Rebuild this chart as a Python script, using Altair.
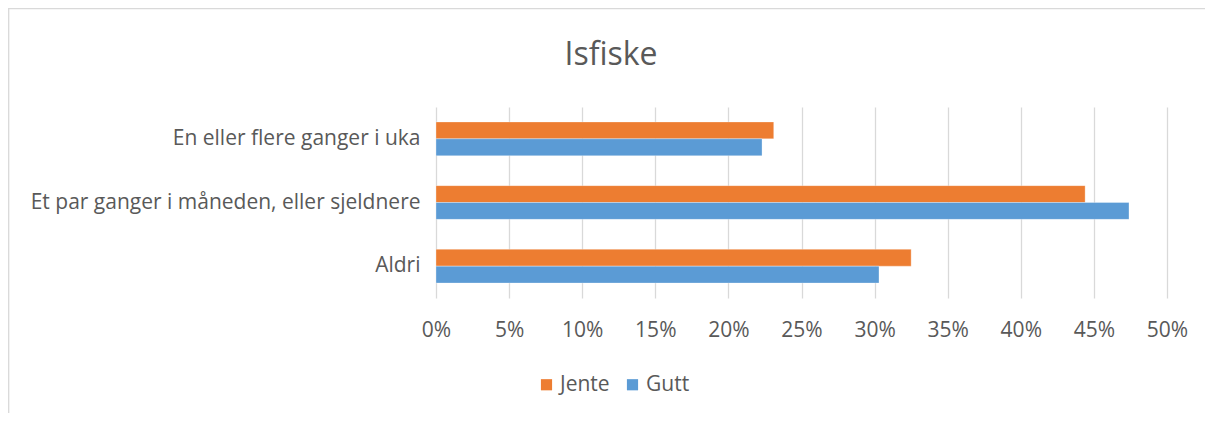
import altair as alt
import pandas as pd

title_text = ["Isfiske"]
categories = ["En eller flere ganger i uka", "Et par ganger i måneden, eller sjeldnere", "Aldri"]
series = ["Jente", "Gutt"]
jente = [23.1, 44.4, 32.5]
gutt = [22.3, 47.4, 30.3]
colors = ["#ED7D31", "#5B9BD5"]
x_ticks = [0, 5, 10, 15, 20, 25, 30, 35, 40, 45, 50]

rows = []
for c, j, g in zip(categories, jente, gutt):
    rows.append({"kategori": c, "kjonn": "Jente", "verdi": j / 100})
    rows.append({"kategori": c, "kjonn": "Gutt", "verdi": g / 100})
df = pd.DataFrame(rows)

FONT = "Open Sans"
TXT = "#595959"
FS = 21

bars = alt.Chart(df).mark_bar(stroke="white", strokeWidth=0.6, strokeOpacity=0.5).encode(
    y=alt.Y("kategori:N", sort=categories, title=None,
            scale=alt.Scale(paddingInner=0.47, paddingOuter=0.235),
            axis=alt.Axis(ticks=False, domain=False, labelPadding=16, labelFontSize=FS,
                          labelColor=TXT, labelFont=FONT, labelLimit=500)),
    yOffset=alt.YOffset("kjonn:N", sort=series),
    x=alt.X("verdi:Q", title=None,
            scale=alt.Scale(domain=[0, 0.5], nice=False),
            axis=alt.Axis(format=".0%", values=[v / 100 for v in x_ticks], ticks=False, domain=False,
                          grid=True, gridColor="#D9D9D9", gridWidth=1.3, labelFlush=False,
                          labelPadding=21, labelFontSize=FS, labelColor=TXT, labelFont=FONT)),
    color=alt.Color("kjonn:N", sort=series, scale=alt.Scale(domain=series, range=colors),
                    legend=alt.Legend(title=None, orient="none", direction="horizontal",
                                      legendX=100, legendY=267, symbolType="square",
                                      symbolSize=125, symbolStrokeWidth=0, labelFontSize=FS,
                                      labelColor=TXT, labelFont=FONT, columnPadding=12,
                                      labelOffset=3)),
)

title = alt.Chart(pd.DataFrame({"t": title_text})).mark_text(
    font=FONT, fontSize=32, color=TXT, baseline="alphabetic", align="center"
).encode(text="t:N", x=alt.value(175), y=alt.value(-42))

border_df = pd.DataFrame({"k": [0]})
top_line = alt.Chart(border_df).mark_rule(color="#D9D9D9", strokeWidth=1.3).encode(
    x=alt.value(-428), x2=alt.value(777), y=alt.value(-98.3))
left_line = alt.Chart(border_df).mark_rule(color="#D9D9D9", strokeWidth=1.3).encode(
    x=alt.value(-427.3), y=alt.value(-99), y2=alt.value(314))

chart = alt.layer(bars, title, top_line, left_line).properties(
    width=731, height=191,
    autosize=alt.AutoSizeParams(type="none"),
    padding={"left": 428, "top": 99, "right": 38, "bottom": 115},
).configure_view(stroke=None)

chart.save("out.html", embed_options={"renderer": "svg", "actions": False})
